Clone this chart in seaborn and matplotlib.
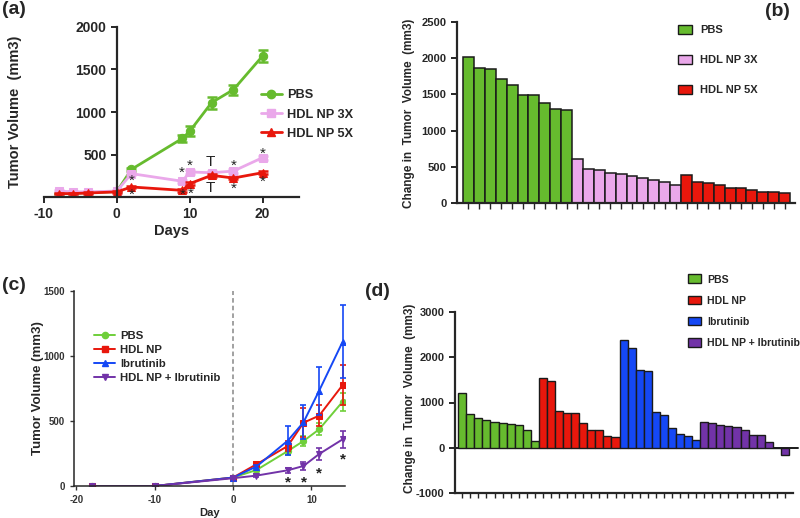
import numpy as np
import pandas as pd
import matplotlib
matplotlib.use("Agg")
import matplotlib.pyplot as plt
from matplotlib.lines import Line2D
from matplotlib.patches import Patch
import seaborn as sns

# ---------------- data ----------------
# Panel (a)
a_days = [-8, -6, -4, 0, 2, 9, 10, 13, 16, 20]
a_pbs = [45, 45, 50, 65, 325, 690, 773, 1110, 1263, 1659]
a_pbs_err = [5, 5, 5, 10, 20, 40, 60, 70, 60, 70]
a_3x = [70, 60, 60, 70, 275, 185, 295, 285, 305, 463]
a_3x_err = [10, 10, 10, 10, 20, 20, 20, 20, 20, 25]
a_5x = [40, 40, 47, 60, 118, 78, 157, 255, 223, 286]
a_5x_err = [8, 8, 8, 8, 15, 15, 15, 15, 15, 15]
a_series = ["PBS", "HDL NP 3X", "HDL NP 5X"]
a_marks = [("*", 2, 225), ("*", 2, 56), ("*", 8.85, 320), ("*", 9, 56),
           ("*", 10, 402), ("*", 10.1, 75), ("T", 12.85, 413), ("T", 12.85, 110),
           ("*", 16, 402), ("*", 16, 130), ("*", 20, 545), ("*", 20, 207)]

# Panel (b)
b_groups = ["PBS", "HDL NP 3X", "HDL NP 5X"]
b_pbs = [2010, 1870, 1845, 1710, 1635, 1495, 1485, 1375, 1305, 1280]
b_3x = [610, 465, 460, 415, 405, 370, 345, 315, 292, 245]
b_5x = [380, 296, 278, 255, 213, 204, 180, 157, 153, 139]

# Panel (c)
c_days = [-18, -10, 0, 3, 7, 9, 11, 14]
c_series = ["PBS", "HDL NP", "Ibrutinib", "HDL NP + Ibrutinib"]
c_pbs = [0, 0, 65, 123, 269, 346, 436, 649]
c_pbs_err = [0, 0, 5, 10, 30, 40, 45, 70]
c_hdl = [0, 0, 65, 167, 308, 487, 541, 777]
c_hdl_err = [0, 0, 5, 15, 40, 110, 80, 155]
c_ibr = [0, 0, 65, 150, 349, 490, 733, 1110]
c_ibr_err = [0, 0, 5, 15, 110, 130, 185, 280]
c_combo = [0, 0, 60, 80, 121, 154, 246, 359]
c_combo_err = [0, 0, 5, 10, 20, 30, 45, 65]
c_stars = [(7, 45), (9, 50), (11, 120), (14, 225)]

# Panel (d)
d_groups = ["PBS", "HDL NP", "Ibrutinib", "HDL NP + Ibrutinib"]
d_pbs = [1200, 740, 667, 607, 578, 548, 518, 504, 385, 140]
d_hdl = [1537, 1470, 810, 772, 757, 537, 397, 382, 250, 235]
d_ibr = [2382, 2206, 1728, 1691, 794, 720, 426, 309, 250, 169]
d_combo = [580, 544, 500, 485, 456, 382, 287, 272, 125, -15, -162]

# ---------------- style ----------------
sns.set_theme(style="ticks")
plt.rcParams["font.family"] = ["Liberation Sans", "DejaVu Sans"]
plt.rcParams["font.weight"] = "bold"
plt.rcParams["axes.labelweight"] = "bold"
plt.rcParams["axes.unicode_minus"] = False
plt.rcParams["axes.linewidth"] = 1.6
plt.rcParams["xtick.major.width"] = 1.4
plt.rcParams["ytick.major.width"] = 1.4
plt.rcParams["xtick.direction"] = "out"
plt.rcParams["ytick.direction"] = "out"

GREEN = "#66bb2e"
PINK = "#eaa8ea"
RED = "#e8170c"
BLUE = "#1548f5"
PURPLE = "#7233a8"
C_GREEN = "#6fcf3a"

W, H = 800, 518
fig = plt.figure(figsize=(W / 100, H / 100), dpi=100)


def axes_px(l, t, r, b):
    return fig.add_axes([l / W, 1 - b / H, (r - l) / W, (b - t) / H])


# ---------------- panel (a) ----------------
axa = axes_px(44, 27, 299, 197)
a_vals = [a_pbs, a_3x, a_5x]
a_errs = [a_pbs_err, a_3x_err, a_5x_err]
a_cols = [GREEN, PINK, RED]
a_mk = ["o", "s", "^"]
for name, v, e, c, m in zip(a_series, a_vals, a_errs, a_cols, a_mk):
    df = pd.DataFrame({"day": a_days, "vol": v})
    sns.lineplot(data=df, x="day", y="vol", color=c, marker=m, markersize=6,
                 markeredgecolor=c, linewidth=2, ax=axa, label=name)
    axa.errorbar(a_days, v, yerr=e, fmt="none", ecolor=c, elinewidth=1.8,
                 capsize=3.5, capthick=1.8)
for s, x, y in a_marks:
    axa.annotate(s, (x, y), xytext=(0, -2 if s == "*" else 0),
                 textcoords="offset points", ha="center", va="center",
                 fontsize=11, fontweight="normal", color="#222222")
axa.set_xlim(-10, 25)
axa.set_ylim(0, 2000)
axa.spines["left"].set_position(("data", 0))
axa.spines["top"].set_visible(False)
axa.spines["right"].set_visible(False)
axa.set_xticks([-10, 0, 10, 20])
axa.set_yticks([500, 1000, 1500, 2000])
axa.tick_params(labelsize=10, length=4)
for lab in axa.get_xticklabels() + axa.get_yticklabels():
    lab.set_fontweight("bold")
axa.set_xlabel("Days", fontsize=10.5, fontweight="bold", labelpad=2)
axa.set_ylabel("")
fig.text(15 / W, 1 - 112 / H, "Tumor Volume  (mm3)", rotation=90, ha="center",
         va="center", fontsize=10.5, fontweight="bold")
h = [Line2D([0], [0], color=c, marker=m, markersize=6, linewidth=2)
     for c, m in zip(a_cols, a_mk)]
axa.legend(h, a_series, loc="upper left", bbox_to_anchor=(249 / W, 1 - 78 / H),
           bbox_transform=fig.transFigure, frameon=False,
           handlelength=1.7, handletextpad=0.35, labelspacing=0.55,
           prop={"weight": "bold", "size": 9.2})

# ---------------- panel (b) ----------------
axb = axes_px(457, 22, 795, 203)
b_vals = b_pbs + b_3x + b_5x
b_grp = [b_groups[0]] * len(b_pbs) + [b_groups[1]] * len(b_3x) + [b_groups[2]] * len(b_5x)
dfb = pd.DataFrame({"idx": np.arange(len(b_vals)), "val": b_vals, "grp": b_grp})
b_pal = {b_groups[0]: GREEN, b_groups[1]: PINK, b_groups[2]: RED}
sns.barplot(data=dfb, x="idx", y="val", hue="grp", palette=b_pal, dodge=False,
            width=1.0, edgecolor="#1a1a1a", linewidth=1.1, saturation=1,
            legend=False, ax=axb)
axb.set_xlim(-1.05, len(b_vals) - 0.05)
axb.set_ylim(0, 2500)
axb.set_yticks([0, 500, 1000, 1500, 2000, 2500])
axb.set_xticks(np.arange(len(b_vals)))
axb.set_xticklabels([""] * len(b_vals))
axb.spines["top"].set_visible(False)
axb.spines["right"].set_visible(False)
axb.tick_params(axis="y", labelsize=8, length=4)
axb.tick_params(axis="x", length=4, width=1.0)
for lab in axb.get_yticklabels():
    lab.set_fontweight("bold")
axb.set_xlabel("")
axb.set_ylabel("")
fig.text(409 / W, 1 - 113 / H, "Change in  Tumor  Volume  (mm3)", rotation=90,
         ha="center", va="center", fontsize=8.5, fontweight="bold")
hb = [Patch(facecolor=b_pal[g], edgecolor="#1a1a1a", linewidth=1) for g in b_groups]
axb.legend(hb, b_groups, loc="upper left", bbox_to_anchor=(668 / W, 1 - 15 / H),
           bbox_transform=fig.transFigure, frameon=False, handlelength=1.25,
           handleheight=0.9, handletextpad=0.75, labelspacing=1.75,
           prop={"weight": "bold", "size": 8})

# ---------------- panel (c) ----------------
axc = axes_px(74, 291, 345, 486)
c_vals = [c_pbs, c_hdl, c_ibr, c_combo]
c_errs = [c_pbs_err, c_hdl_err, c_ibr_err, c_combo_err]
c_cols = [C_GREEN, RED, BLUE, PURPLE]
c_mk = ["o", "s", "^", "v"]
axc.axvline(0, color="#888888", linestyle=(0, (3, 2)), linewidth=1.1, zorder=0)
for name, v, e, c, m in zip(c_series, c_vals, c_errs, c_cols, c_mk):
    df = pd.DataFrame({"day": c_days, "vol": v})
    sns.lineplot(data=df, x="day", y="vol", color=c, marker=m, markersize=4.5,
                 markeredgecolor=c, linewidth=1.4, ax=axc, label=name)
    axc.errorbar(c_days, v, yerr=e, fmt="none", ecolor=c, elinewidth=1.2,
                 capsize=2.5, capthick=1.2)
for x, y in c_stars:
    axc.annotate("*", (x, y), xytext=(0, -2), textcoords="offset points",
                 ha="center", va="center", fontsize=11, fontweight="bold",
                 color="#222222")
axc.set_xlim(-20.3, 14.3)
axc.set_ylim(0, 1500)
axc.set_xticks([-20, -10, 0, 10])
axc.set_yticks([0, 500, 1000, 1500])
axc.spines["top"].set_visible(False)
axc.spines["right"].set_visible(False)
axc.spines["left"].set_linewidth(1.1)
axc.spines["bottom"].set_linewidth(1.1)
axc.tick_params(labelsize=7, length=3, width=1.0, colors="#333333")
for lab in axc.get_xticklabels() + axc.get_yticklabels():
    lab.set_fontweight("bold")
axc.set_xlabel("Day", fontsize=8, fontweight="bold", labelpad=2)
axc.set_ylabel("")
fig.text(38 / W, 1 - 388 / H, "Tumor Volume (mm3)", rotation=90, ha="center",
         va="center", fontsize=9.5, fontweight="bold")
hc = [Line2D([0], [0], color=c, marker=m, markersize=4.5, linewidth=1.4)
      for c, m in zip(c_cols, c_mk)]
axc.legend(hc, c_series, loc="upper left", bbox_to_anchor=(84 / W, 1 - 321 / H),
           bbox_transform=fig.transFigure, frameon=False, handlelength=1.8,
           handletextpad=0.5, labelspacing=0.35,
           prop={"weight": "bold", "size": 8.2})

# ---------------- panel (d) ----------------
axd = axes_px(455, 312, 793, 493)
d_vals = d_pbs + d_hdl + d_ibr + d_combo
d_grp = ([d_groups[0]] * len(d_pbs) + [d_groups[1]] * len(d_hdl) +
         [d_groups[2]] * len(d_ibr) + [d_groups[3]] * len(d_combo))
dfd = pd.DataFrame({"idx": np.arange(len(d_vals)), "val": d_vals, "grp": d_grp})
d_pal = {d_groups[0]: GREEN, d_groups[1]: RED, d_groups[2]: BLUE, d_groups[3]: PURPLE}
sns.barplot(data=dfd, x="idx", y="val", hue="grp", palette=d_pal, dodge=False,
            width=1.0, edgecolor="#1a1a1a", linewidth=1.0, saturation=1,
            legend=False, ax=axd)
axd.axhline(0, xmax=1.015, color="#1a1a1a", linewidth=1.4, zorder=0.5,
            clip_on=False)
axd.set_xlim(-0.9, len(d_vals))
axd.set_ylim(-1000, 3000)
axd.set_yticks([-1000, 0, 1000, 2000, 3000])
axd.set_xticks(np.arange(len(d_vals)))
axd.set_xticklabels([""] * len(d_vals))
axd.spines["top"].set_visible(False)
axd.spines["right"].set_visible(False)
axd.tick_params(axis="y", labelsize=8, length=4)
axd.tick_params(axis="x", length=3.5, width=1.0)
for lab in axd.get_yticklabels():
    lab.set_fontweight("bold")
axd.set_xlabel("")
axd.set_ylabel("")
fig.text(410 / W, 1 - 398 / H, "Change in  Tumor  Volume  (mm3)", rotation=90,
         ha="center", va="center", fontsize=8.5, fontweight="bold")
hd = [Patch(facecolor=d_pal[g], edgecolor="#1a1a1a", linewidth=1) for g in d_groups]
axd.legend(hd, d_groups, loc="upper left", bbox_to_anchor=(678 / W, 1 - 265 / H),
           bbox_transform=fig.transFigure, frameon=False, handlelength=1.25,
           handleheight=0.9, handletextpad=0.6, labelspacing=1.05,
           prop={"weight": "bold", "size": 7.6})

# ---------------- panel labels ----------------
for t, x, y in [("(a)", 2, 10), ("(b)", 765, 12), ("(c)", 2, 286), ("(d)", 365, 292)]:
    fig.text(x / W, 1 - y / H, t, ha="left", va="center", fontsize=14,
             fontweight="bold")

fig.savefig("out.png", dpi=100)
